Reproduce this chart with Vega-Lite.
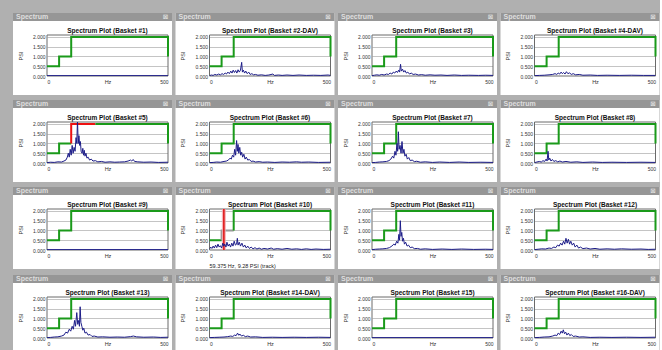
{
"$schema":"https://vega.github.io/schema/vega-lite/v6.json",
"background":"#b0b0b0",
"padding":{"left":12,"top":11,"right":0,"bottom":0},
"config":{"view":{"stroke":null,"fill":"white"},
"axis":{"labelFont":"Liberation Sans","labelFontSize":5,"labelColor":"#333333","titleFont":"Liberation Sans","titleFontSize":5.5,"titleFontWeight":"normal","titleColor":"#333333","ticks":false,"domain":false,"labelPadding":2},
"axisX":{"zindex":1},
"headerFacet":{"labels":false,"title":null,"labelPadding":0,"titlePadding":0,"labelExpr":"''","labelFontSize":1,"labelLimit":1}},
"data":{"values":[
{"p":1,"k":"t","t":"Spectrum Plot (Basket #1)"},
{"p":2,"k":"t","t":"Spectrum Plot (Basket #2-DAV)"},
{"p":3,"k":"t","t":"Spectrum Plot (Basket #3)"},
{"p":4,"k":"t","t":"Spectrum Plot (Basket #4-DAV)"},
{"p":5,"k":"t","t":"Spectrum Plot (Basket #5)"},
{"p":6,"k":"t","t":"Spectrum Plot (Basket #6)"},
{"p":7,"k":"t","t":"Spectrum Plot (Basket #7)"},
{"p":8,"k":"t","t":"Spectrum Plot (Basket #8)"},
{"p":9,"k":"t","t":"Spectrum Plot (Basket #9)"},
{"p":10,"k":"t","t":"Spectrum Plot (Basket #10)"},
{"p":11,"k":"t","t":"Spectrum Plot (Basket #11)"},
{"p":12,"k":"t","t":"Spectrum Plot (Basket #12)"},
{"p":13,"k":"t","t":"Spectrum Plot (Basket #13)"},
{"p":14,"k":"t","t":"Spectrum Plot (Basket #14-DAV)"},
{"p":15,"k":"t","t":"Spectrum Plot (Basket #15)"},
{"p":16,"k":"t","t":"Spectrum Plot (Basket #16-DAV)"},
{"p":10,"k":"cur","x":59.375},
{"p":10,"k":"a","t":"59.375 Hz, 9.28 PSI (track)"},

{"p":1,"c":"g","x":0,"y":0.5},{"p":1,"c":"g","x":50,"y":0.5},{"p":1,"c":"g","x":50,"y":1},{"p":1,"c":"g","x":100,"y":1},{"p":1,"c":"g","x":100,"y":2},{"p":1,"c":"g","x":500,"y":2},{"p":1,"c":"g","x":500,"y":1},
{"p":2,"c":"g","x":0,"y":0.5},{"p":2,"c":"g","x":50,"y":0.5},{"p":2,"c":"g","x":50,"y":1},{"p":2,"c":"g","x":100,"y":1},{"p":2,"c":"g","x":100,"y":2},{"p":2,"c":"g","x":500,"y":2},{"p":2,"c":"g","x":500,"y":1},
{"p":3,"c":"g","x":0,"y":0.5},{"p":3,"c":"g","x":50,"y":0.5},{"p":3,"c":"g","x":50,"y":1},{"p":3,"c":"g","x":100,"y":1},{"p":3,"c":"g","x":100,"y":2},{"p":3,"c":"g","x":500,"y":2},{"p":3,"c":"g","x":500,"y":1},
{"p":4,"c":"g","x":0,"y":0.5},{"p":4,"c":"g","x":50,"y":0.5},{"p":4,"c":"g","x":50,"y":1},{"p":4,"c":"g","x":100,"y":1},{"p":4,"c":"g","x":100,"y":2},{"p":4,"c":"g","x":500,"y":2},{"p":4,"c":"g","x":500,"y":1},
{"p":5,"c":"g","x":0,"y":0.5},{"p":5,"c":"g","x":50,"y":0.5},{"p":5,"c":"g","x":50,"y":1},{"p":5,"c":"g","x":100,"y":1},{"p":5,"c":"r","x":100,"y":1},{"p":5,"c":"r","x":100,"y":2},{"p":5,"c":"r","x":200,"y":2},{"p":5,"c":"h","x":200,"y":2},{"p":5,"c":"h","x":500,"y":2},{"p":5,"c":"h","x":500,"y":1},
{"p":6,"c":"g","x":0,"y":0.5},{"p":6,"c":"g","x":50,"y":0.5},{"p":6,"c":"g","x":50,"y":1},{"p":6,"c":"g","x":100,"y":1},{"p":6,"c":"g","x":100,"y":2},{"p":6,"c":"g","x":500,"y":2},{"p":6,"c":"g","x":500,"y":1},
{"p":7,"c":"g","x":0,"y":0.5},{"p":7,"c":"g","x":50,"y":0.5},{"p":7,"c":"g","x":50,"y":1},{"p":7,"c":"g","x":100,"y":1},{"p":7,"c":"g","x":100,"y":2},{"p":7,"c":"g","x":500,"y":2},{"p":7,"c":"g","x":500,"y":1},
{"p":8,"c":"g","x":0,"y":0.5},{"p":8,"c":"g","x":50,"y":0.5},{"p":8,"c":"g","x":50,"y":1},{"p":8,"c":"g","x":100,"y":1},{"p":8,"c":"g","x":100,"y":2},{"p":8,"c":"g","x":500,"y":2},{"p":8,"c":"g","x":500,"y":1},
{"p":9,"c":"g","x":0,"y":0.5},{"p":9,"c":"g","x":50,"y":0.5},{"p":9,"c":"g","x":50,"y":1},{"p":9,"c":"g","x":100,"y":1},{"p":9,"c":"g","x":100,"y":2},{"p":9,"c":"g","x":500,"y":2},{"p":9,"c":"g","x":500,"y":1},
{"p":10,"c":"g","x":0,"y":0.5},{"p":10,"c":"g","x":50,"y":0.5},{"p":10,"c":"k","x":50,"y":0.5},{"p":10,"c":"k","x":50,"y":1},{"p":10,"c":"k","x":100,"y":1},{"p":10,"c":"h","x":100,"y":1},{"p":10,"c":"h","x":100,"y":2},{"p":10,"c":"h","x":500,"y":2},{"p":10,"c":"h","x":500,"y":1},
{"p":11,"c":"g","x":0,"y":0.5},{"p":11,"c":"g","x":50,"y":0.5},{"p":11,"c":"g","x":50,"y":1},{"p":11,"c":"g","x":100,"y":1},{"p":11,"c":"g","x":100,"y":2},{"p":11,"c":"g","x":500,"y":2},{"p":11,"c":"g","x":500,"y":1},
{"p":12,"c":"g","x":0,"y":0.5},{"p":12,"c":"g","x":50,"y":0.5},{"p":12,"c":"g","x":50,"y":1},{"p":12,"c":"g","x":100,"y":1},{"p":12,"c":"g","x":100,"y":2},{"p":12,"c":"g","x":500,"y":2},{"p":12,"c":"g","x":500,"y":1},
{"p":13,"c":"g","x":0,"y":0.5},{"p":13,"c":"g","x":50,"y":0.5},{"p":13,"c":"g","x":50,"y":1},{"p":13,"c":"g","x":100,"y":1},{"p":13,"c":"g","x":100,"y":2},{"p":13,"c":"g","x":500,"y":2},{"p":13,"c":"g","x":500,"y":1},
{"p":14,"c":"g","x":0,"y":0.5},{"p":14,"c":"g","x":50,"y":0.5},{"p":14,"c":"g","x":50,"y":1},{"p":14,"c":"g","x":100,"y":1},{"p":14,"c":"g","x":100,"y":2},{"p":14,"c":"g","x":500,"y":2},{"p":14,"c":"g","x":500,"y":1},
{"p":15,"c":"g","x":0,"y":0.5},{"p":15,"c":"g","x":50,"y":0.5},{"p":15,"c":"g","x":50,"y":1},{"p":15,"c":"g","x":100,"y":1},{"p":15,"c":"g","x":100,"y":2},{"p":15,"c":"g","x":500,"y":2},{"p":15,"c":"g","x":500,"y":1},
{"p":16,"c":"g","x":0,"y":0.5},{"p":16,"c":"g","x":50,"y":0.5},{"p":16,"c":"g","x":50,"y":1},{"p":16,"c":"g","x":100,"y":1},{"p":16,"c":"g","x":100,"y":2},{"p":16,"c":"g","x":500,"y":2},{"p":16,"c":"g","x":500,"y":1},

{"p":1,"x":0,"y":0.02},{"p":1,"x":500,"y":0.02},
{"p":9,"x":0,"y":0.02},{"p":9,"x":500,"y":0.02},
{"p":15,"x":0,"y":0.02},{"p":15,"x":500,"y":0.02},

{"p":2,"x":0,"y":0.02},{"p":2,"x":8,"y":0.05},{"p":2,"x":15,"y":0.03},{"p":2,"x":22,"y":0.08},{"p":2,"x":30,"y":0.05},{"p":2,"x":38,"y":0.1},{"p":2,"x":45,"y":0.06},{"p":2,"x":52,"y":0.12},{"p":2,"x":58,"y":0.08},{"p":2,"x":65,"y":0.15},{"p":2,"x":70,"y":0.1},{"p":2,"x":76,"y":0.2},{"p":2,"x":82,"y":0.12},{"p":2,"x":88,"y":0.25},{"p":2,"x":93,"y":0.15},{"p":2,"x":98,"y":0.3},{"p":2,"x":103,"y":0.18},{"p":2,"x":108,"y":0.28},{"p":2,"x":113,"y":0.15},{"p":2,"x":118,"y":0.32},{"p":2,"x":123,"y":0.2},{"p":2,"x":128,"y":0.3},{"p":2,"x":133,"y":0.7},{"p":2,"x":136,"y":0.2},{"p":2,"x":140,"y":0.3},{"p":2,"x":145,"y":0.15},{"p":2,"x":150,"y":0.25},{"p":2,"x":156,"y":0.12},{"p":2,"x":162,"y":0.2},{"p":2,"x":168,"y":0.08},{"p":2,"x":175,"y":0.12},{"p":2,"x":182,"y":0.06},{"p":2,"x":190,"y":0.08},{"p":2,"x":200,"y":0.04},{"p":2,"x":215,"y":0.06},{"p":2,"x":230,"y":0.03},{"p":2,"x":245,"y":0.05},{"p":2,"x":262,"y":0.1},{"p":2,"x":268,"y":0.03},{"p":2,"x":285,"y":0.05},{"p":2,"x":300,"y":0.03},{"p":2,"x":320,"y":0.05},{"p":2,"x":345,"y":0.03},{"p":2,"x":370,"y":0.05},{"p":2,"x":400,"y":0.03},{"p":2,"x":430,"y":0.04},{"p":2,"x":460,"y":0.03},{"p":2,"x":490,"y":0.05},{"p":2,"x":500,"y":0.03},

{"p":3,"x":0,"y":0.02},{"p":3,"x":10,"y":0.04},{"p":3,"x":20,"y":0.06},{"p":3,"x":30,"y":0.04},{"p":3,"x":40,"y":0.08},{"p":3,"x":50,"y":0.05},{"p":3,"x":60,"y":0.1},{"p":3,"x":68,"y":0.08},{"p":3,"x":75,"y":0.15},{"p":3,"x":82,"y":0.1},{"p":3,"x":88,"y":0.2},{"p":3,"x":94,"y":0.15},{"p":3,"x":100,"y":0.25},{"p":3,"x":105,"y":0.18},{"p":3,"x":110,"y":0.3},{"p":3,"x":114,"y":0.2},{"p":3,"x":118,"y":0.6},{"p":3,"x":121,"y":0.25},{"p":3,"x":126,"y":0.35},{"p":3,"x":131,"y":0.2},{"p":3,"x":136,"y":0.28},{"p":3,"x":142,"y":0.15},{"p":3,"x":148,"y":0.2},{"p":3,"x":155,"y":0.1},{"p":3,"x":162,"y":0.15},{"p":3,"x":170,"y":0.08},{"p":3,"x":180,"y":0.1},{"p":3,"x":192,"y":0.05},{"p":3,"x":205,"y":0.07},{"p":3,"x":220,"y":0.04},{"p":3,"x":240,"y":0.06},{"p":3,"x":260,"y":0.04},{"p":3,"x":285,"y":0.05},{"p":3,"x":310,"y":0.03},{"p":3,"x":340,"y":0.05},{"p":3,"x":370,"y":0.03},{"p":3,"x":400,"y":0.04},{"p":3,"x":440,"y":0.03},{"p":3,"x":470,"y":0.04},{"p":3,"x":500,"y":0.03},

{"p":4,"x":0,"y":0.02},{"p":4,"x":20,"y":0.03},{"p":4,"x":40,"y":0.04},{"p":4,"x":60,"y":0.06},{"p":4,"x":75,"y":0.08},{"p":4,"x":85,"y":0.12},{"p":4,"x":92,"y":0.08},{"p":4,"x":98,"y":0.15},{"p":4,"x":104,"y":0.1},{"p":4,"x":110,"y":0.2},{"p":4,"x":115,"y":0.12},{"p":4,"x":120,"y":0.18},{"p":4,"x":126,"y":0.1},{"p":4,"x":132,"y":0.22},{"p":4,"x":138,"y":0.12},{"p":4,"x":145,"y":0.16},{"p":4,"x":152,"y":0.08},{"p":4,"x":160,"y":0.12},{"p":4,"x":170,"y":0.06},{"p":4,"x":185,"y":0.08},{"p":4,"x":200,"y":0.04},{"p":4,"x":230,"y":0.05},{"p":4,"x":260,"y":0.03},{"p":4,"x":300,"y":0.04},{"p":4,"x":350,"y":0.03},{"p":4,"x":400,"y":0.04},{"p":4,"x":450,"y":0.03},{"p":4,"x":500,"y":0.03},

{"p":5,"x":0,"y":0.02},{"p":5,"x":15,"y":0.04},{"p":5,"x":30,"y":0.03},{"p":5,"x":45,"y":0.06},{"p":5,"x":60,"y":0.05},{"p":5,"x":70,"y":0.1},{"p":5,"x":78,"y":0.15},{"p":5,"x":84,"y":0.3},{"p":5,"x":88,"y":0.5},{"p":5,"x":92,"y":0.3},{"p":5,"x":96,"y":0.7},{"p":5,"x":100,"y":0.4},{"p":5,"x":104,"y":0.9},{"p":5,"x":108,"y":0.5},{"p":5,"x":112,"y":0.8},{"p":5,"x":116,"y":0.6},{"p":5,"x":120,"y":1.3},{"p":5,"x":123,"y":1.0},{"p":5,"x":126,"y":2.2},{"p":5,"x":129,"y":1.0},{"p":5,"x":132,"y":1.4},{"p":5,"x":135,"y":0.9},{"p":5,"x":138,"y":1.1},{"p":5,"x":141,"y":0.6},{"p":5,"x":145,"y":0.5},{"p":5,"x":148,"y":0.75},{"p":5,"x":151,"y":0.4},{"p":5,"x":154,"y":0.65},{"p":5,"x":157,"y":0.35},{"p":5,"x":161,"y":0.5},{"p":5,"x":165,"y":0.25},{"p":5,"x":170,"y":0.3},{"p":5,"x":176,"y":0.15},{"p":5,"x":183,"y":0.2},{"p":5,"x":190,"y":0.1},{"p":5,"x":200,"y":0.12},{"p":5,"x":210,"y":0.06},{"p":5,"x":225,"y":0.08},{"p":5,"x":240,"y":0.04},{"p":5,"x":260,"y":0.06},{"p":5,"x":280,"y":0.04},{"p":5,"x":300,"y":0.05},{"p":5,"x":320,"y":0.06},{"p":5,"x":335,"y":0.1},{"p":5,"x":345,"y":0.15},{"p":5,"x":350,"y":0.1},{"p":5,"x":356,"y":0.18},{"p":5,"x":362,"y":0.08},{"p":5,"x":375,"y":0.06},{"p":5,"x":400,"y":0.04},{"p":5,"x":430,"y":0.05},{"p":5,"x":460,"y":0.03},{"p":5,"x":500,"y":0.04},

{"p":6,"x":0,"y":0.02},{"p":6,"x":15,"y":0.03},{"p":6,"x":30,"y":0.05},{"p":6,"x":45,"y":0.04},{"p":6,"x":60,"y":0.08},{"p":6,"x":70,"y":0.1},{"p":6,"x":78,"y":0.15},{"p":6,"x":85,"y":0.25},{"p":6,"x":90,"y":0.2},{"p":6,"x":95,"y":0.4},{"p":6,"x":100,"y":0.3},{"p":6,"x":104,"y":0.7},{"p":6,"x":108,"y":0.4},{"p":6,"x":112,"y":1.15},{"p":6,"x":115,"y":0.6},{"p":6,"x":118,"y":0.95},{"p":6,"x":121,"y":0.5},{"p":6,"x":125,"y":0.8},{"p":6,"x":129,"y":0.4},{"p":6,"x":133,"y":0.55},{"p":6,"x":137,"y":0.3},{"p":6,"x":142,"y":0.45},{"p":6,"x":147,"y":0.2},{"p":6,"x":152,"y":0.3},{"p":6,"x":158,"y":0.15},{"p":6,"x":165,"y":0.18},{"p":6,"x":172,"y":0.08},{"p":6,"x":180,"y":0.1},{"p":6,"x":190,"y":0.05},{"p":6,"x":205,"y":0.07},{"p":6,"x":220,"y":0.04},{"p":6,"x":240,"y":0.05},{"p":6,"x":270,"y":0.03},{"p":6,"x":300,"y":0.05},{"p":6,"x":330,"y":0.04},{"p":6,"x":360,"y":0.06},{"p":6,"x":380,"y":0.04},{"p":6,"x":410,"y":0.05},{"p":6,"x":450,"y":0.03},{"p":6,"x":500,"y":0.04},

{"p":7,"x":0,"y":0.02},{"p":7,"x":15,"y":0.03},{"p":7,"x":30,"y":0.05},{"p":7,"x":45,"y":0.06},{"p":7,"x":60,"y":0.08},{"p":7,"x":70,"y":0.12},{"p":7,"x":78,"y":0.2},{"p":7,"x":85,"y":0.35},{"p":7,"x":90,"y":0.25},{"p":7,"x":95,"y":0.6},{"p":7,"x":99,"y":0.4},{"p":7,"x":103,"y":1.0},{"p":7,"x":106,"y":0.6},{"p":7,"x":109,"y":1.6},{"p":7,"x":112,"y":0.7},{"p":7,"x":116,"y":0.9},{"p":7,"x":120,"y":0.5},{"p":7,"x":124,"y":1.1},{"p":7,"x":128,"y":0.5},{"p":7,"x":132,"y":0.7},{"p":7,"x":136,"y":0.35},{"p":7,"x":141,"y":0.45},{"p":7,"x":146,"y":0.2},{"p":7,"x":152,"y":0.28},{"p":7,"x":158,"y":0.12},{"p":7,"x":166,"y":0.15},{"p":7,"x":175,"y":0.07},{"p":7,"x":185,"y":0.09},{"p":7,"x":200,"y":0.04},{"p":7,"x":220,"y":0.06},{"p":7,"x":250,"y":0.03},{"p":7,"x":280,"y":0.05},{"p":7,"x":320,"y":0.03},{"p":7,"x":360,"y":0.05},{"p":7,"x":400,"y":0.03},{"p":7,"x":450,"y":0.04},{"p":7,"x":500,"y":0.03},

{"p":8,"x":0,"y":0.02},{"p":8,"x":10,"y":0.05},{"p":8,"x":20,"y":0.08},{"p":8,"x":28,"y":0.05},{"p":8,"x":35,"y":0.12},{"p":8,"x":42,"y":0.08},{"p":8,"x":48,"y":0.2},{"p":8,"x":52,"y":0.1},{"p":8,"x":56,"y":0.6},{"p":8,"x":59,"y":0.15},{"p":8,"x":63,"y":0.25},{"p":8,"x":68,"y":0.1},{"p":8,"x":74,"y":0.18},{"p":8,"x":80,"y":0.08},{"p":8,"x":88,"y":0.12},{"p":8,"x":96,"y":0.06},{"p":8,"x":105,"y":0.1},{"p":8,"x":115,"y":0.05},{"p":8,"x":130,"y":0.08},{"p":8,"x":150,"y":0.04},{"p":8,"x":175,"y":0.06},{"p":8,"x":200,"y":0.03},{"p":8,"x":240,"y":0.05},{"p":8,"x":280,"y":0.03},{"p":8,"x":320,"y":0.04},{"p":8,"x":380,"y":0.03},{"p":8,"x":440,"y":0.04},{"p":8,"x":500,"y":0.03},

{"p":10,"x":0,"y":0.05},{"p":10,"x":5,"y":0.15},{"p":10,"x":10,"y":0.08},{"p":10,"x":15,"y":0.2},{"p":10,"x":20,"y":0.1},{"p":10,"x":25,"y":0.25},{"p":10,"x":30,"y":0.12},{"p":10,"x":35,"y":0.3},{"p":10,"x":40,"y":0.15},{"p":10,"x":45,"y":0.22},{"p":10,"x":50,"y":0.1},{"p":10,"x":55,"y":0.35},{"p":10,"x":59,"y":0.2},{"p":10,"x":63,"y":0.3},{"p":10,"x":68,"y":0.15},{"p":10,"x":72,"y":0.4},{"p":10,"x":77,"y":0.2},{"p":10,"x":82,"y":0.3},{"p":10,"x":87,"y":0.15},{"p":10,"x":92,"y":0.35},{"p":10,"x":97,"y":0.2},{"p":10,"x":102,"y":0.45},{"p":10,"x":107,"y":0.25},{"p":10,"x":112,"y":0.3},{"p":10,"x":115,"y":0.6},{"p":10,"x":118,"y":0.25},{"p":10,"x":123,"y":0.4},{"p":10,"x":128,"y":0.2},{"p":10,"x":134,"y":0.35},{"p":10,"x":140,"y":0.15},{"p":10,"x":146,"y":0.25},{"p":10,"x":152,"y":0.1},{"p":10,"x":158,"y":0.2},{"p":10,"x":165,"y":0.08},{"p":10,"x":172,"y":0.15},{"p":10,"x":180,"y":0.06},{"p":10,"x":188,"y":0.12},{"p":10,"x":196,"y":0.05},{"p":10,"x":205,"y":0.1},{"p":10,"x":215,"y":0.04},{"p":10,"x":225,"y":0.08},{"p":10,"x":240,"y":0.05},{"p":10,"x":255,"y":0.1},{"p":10,"x":265,"y":0.04},{"p":10,"x":280,"y":0.07},{"p":10,"x":300,"y":0.04},{"p":10,"x":320,"y":0.08},{"p":10,"x":340,"y":0.04},{"p":10,"x":360,"y":0.06},{"p":10,"x":380,"y":0.03},{"p":10,"x":400,"y":0.06},{"p":10,"x":420,"y":0.03},{"p":10,"x":440,"y":0.05},{"p":10,"x":470,"y":0.03},{"p":10,"x":500,"y":0.04},

{"p":11,"x":0,"y":0.02},{"p":11,"x":15,"y":0.04},{"p":11,"x":30,"y":0.05},{"p":11,"x":45,"y":0.06},{"p":11,"x":60,"y":0.08},{"p":11,"x":72,"y":0.12},{"p":11,"x":82,"y":0.2},{"p":11,"x":90,"y":0.3},{"p":11,"x":96,"y":0.25},{"p":11,"x":102,"y":0.45},{"p":11,"x":107,"y":0.35},{"p":11,"x":111,"y":0.8},{"p":11,"x":114,"y":0.5},{"p":11,"x":117,"y":1.5},{"p":11,"x":120,"y":0.7},{"p":11,"x":123,"y":0.9},{"p":11,"x":126,"y":0.45},{"p":11,"x":130,"y":0.6},{"p":11,"x":134,"y":0.3},{"p":11,"x":139,"y":0.4},{"p":11,"x":145,"y":0.2},{"p":11,"x":151,"y":0.25},{"p":11,"x":158,"y":0.12},{"p":11,"x":166,"y":0.15},{"p":11,"x":175,"y":0.07},{"p":11,"x":188,"y":0.08},{"p":11,"x":200,"y":0.04},{"p":11,"x":220,"y":0.06},{"p":11,"x":250,"y":0.03},{"p":11,"x":290,"y":0.05},{"p":11,"x":330,"y":0.03},{"p":11,"x":370,"y":0.05},{"p":11,"x":420,"y":0.03},{"p":11,"x":470,"y":0.04},{"p":11,"x":500,"y":0.03},

{"p":12,"x":0,"y":0.02},{"p":12,"x":15,"y":0.04},{"p":12,"x":30,"y":0.06},{"p":12,"x":45,"y":0.05},{"p":12,"x":60,"y":0.1},{"p":12,"x":70,"y":0.08},{"p":12,"x":80,"y":0.15},{"p":12,"x":88,"y":0.12},{"p":12,"x":95,"y":0.25},{"p":12,"x":102,"y":0.2},{"p":12,"x":108,"y":0.35},{"p":12,"x":114,"y":0.25},{"p":12,"x":120,"y":0.45},{"p":12,"x":125,"y":0.3},{"p":12,"x":130,"y":0.6},{"p":12,"x":135,"y":0.35},{"p":12,"x":140,"y":0.55},{"p":12,"x":145,"y":0.3},{"p":12,"x":150,"y":0.45},{"p":12,"x":156,"y":0.25},{"p":12,"x":162,"y":0.35},{"p":12,"x":168,"y":0.15},{"p":12,"x":175,"y":0.25},{"p":12,"x":182,"y":0.1},{"p":12,"x":190,"y":0.15},{"p":12,"x":200,"y":0.07},{"p":12,"x":215,"y":0.1},{"p":12,"x":230,"y":0.05},{"p":12,"x":250,"y":0.08},{"p":12,"x":270,"y":0.04},{"p":12,"x":300,"y":0.06},{"p":12,"x":330,"y":0.04},{"p":12,"x":360,"y":0.06},{"p":12,"x":400,"y":0.04},{"p":12,"x":440,"y":0.05},{"p":12,"x":470,"y":0.03},{"p":12,"x":500,"y":0.04},

{"p":13,"x":0,"y":0.02},{"p":13,"x":15,"y":0.03},{"p":13,"x":30,"y":0.05},{"p":13,"x":45,"y":0.06},{"p":13,"x":60,"y":0.1},{"p":13,"x":70,"y":0.15},{"p":13,"x":78,"y":0.3},{"p":13,"x":85,"y":0.25},{"p":13,"x":92,"y":0.45},{"p":13,"x":98,"y":0.35},{"p":13,"x":104,"y":0.6},{"p":13,"x":109,"y":0.45},{"p":13,"x":114,"y":0.9},{"p":13,"x":118,"y":0.6},{"p":13,"x":123,"y":1.3},{"p":13,"x":127,"y":0.7},{"p":13,"x":131,"y":0.9},{"p":13,"x":134,"y":0.6},{"p":13,"x":137,"y":1.6},{"p":13,"x":140,"y":0.8},{"p":13,"x":144,"y":0.6},{"p":13,"x":148,"y":0.4},{"p":13,"x":152,"y":0.5},{"p":13,"x":157,"y":0.25},{"p":13,"x":163,"y":0.3},{"p":13,"x":170,"y":0.15},{"p":13,"x":178,"y":0.18},{"p":13,"x":186,"y":0.08},{"p":13,"x":195,"y":0.1},{"p":13,"x":210,"y":0.05},{"p":13,"x":230,"y":0.06},{"p":13,"x":260,"y":0.04},{"p":13,"x":290,"y":0.05},{"p":13,"x":320,"y":0.04},{"p":13,"x":345,"y":0.07},{"p":13,"x":357,"y":0.1},{"p":13,"x":370,"y":0.06},{"p":13,"x":400,"y":0.04},{"p":13,"x":440,"y":0.05},{"p":13,"x":470,"y":0.03},{"p":13,"x":500,"y":0.04},

{"p":14,"x":0,"y":0.02},{"p":14,"x":20,"y":0.03},{"p":14,"x":40,"y":0.04},{"p":14,"x":60,"y":0.05},{"p":14,"x":75,"y":0.07},{"p":14,"x":88,"y":0.1},{"p":14,"x":96,"y":0.08},{"p":14,"x":104,"y":0.15},{"p":14,"x":110,"y":0.12},{"p":14,"x":116,"y":0.25},{"p":14,"x":121,"y":0.14},{"p":14,"x":126,"y":0.2},{"p":14,"x":132,"y":0.1},{"p":14,"x":140,"y":0.14},{"p":14,"x":148,"y":0.07},{"p":14,"x":158,"y":0.1},{"p":14,"x":170,"y":0.05},{"p":14,"x":190,"y":0.06},{"p":14,"x":220,"y":0.03},{"p":14,"x":260,"y":0.04},{"p":14,"x":300,"y":0.03},{"p":14,"x":350,"y":0.04},{"p":14,"x":400,"y":0.03},{"p":14,"x":450,"y":0.04},{"p":14,"x":500,"y":0.03},

{"p":16,"x":0,"y":0.02},{"p":16,"x":20,"y":0.03},{"p":16,"x":40,"y":0.05},{"p":16,"x":60,"y":0.06},{"p":16,"x":75,"y":0.1},{"p":16,"x":85,"y":0.15},{"p":16,"x":92,"y":0.12},{"p":16,"x":98,"y":0.25},{"p":16,"x":104,"y":0.18},{"p":16,"x":110,"y":0.35},{"p":16,"x":115,"y":0.25},{"p":16,"x":119,"y":0.42},{"p":16,"x":124,"y":0.22},{"p":16,"x":129,"y":0.3},{"p":16,"x":134,"y":0.15},{"p":16,"x":140,"y":0.25},{"p":16,"x":146,"y":0.12},{"p":16,"x":152,"y":0.18},{"p":16,"x":160,"y":0.08},{"p":16,"x":170,"y":0.1},{"p":16,"x":185,"y":0.05},{"p":16,"x":200,"y":0.06},{"p":16,"x":230,"y":0.03},{"p":16,"x":270,"y":0.04},{"p":16,"x":320,"y":0.03},{"p":16,"x":380,"y":0.04},{"p":16,"x":440,"y":0.03},{"p":16,"x":500,"y":0.04}
]},
"facet":{"field":"p","type":"ordinal","header":{"labels":false,"title":null,"labelPadding":0,"titlePadding":0,"labelExpr":"''","labelFontSize":1,"labelLimit":1},"title":null},
"columns":4,
"spacing":{"row":3,"column":2.5},
"resolve":{"scale":{"x":"independent","y":"independent"},"axis":{"x":"independent","y":"independent"}},
"spec":{
"width":121,"height":41,
"resolve":{"axis":{"x":"independent","y":"independent"}},
"layer":[
{"transform":[{"filter":"datum.k=='t'"}],"mark":{"type":"rect","color":"white","clip":false},
 "encoding":{"x":{"datum":-140.5,"axis":null},"x2":{"datum":516.5},"y":{"datum":2.1,"axis":null},"y2":{"datum":3.227}}},
{"transform":[{"filter":"datum.k=='t'"}],"mark":{"type":"rect","color":"white","clip":false},
 "encoding":{"x":{"datum":-140.5,"axis":null},"x2":{"datum":516.5},"y":{"datum":-0.973,"axis":null},"y2":{"datum":0}}},
{"transform":[{"filter":"datum.k=='t'"}],"mark":{"type":"rect","color":"white","clip":false},
 "encoding":{"x":{"datum":-140.5,"axis":null},"x2":{"datum":0},"y":{"datum":0,"axis":null},"y2":{"datum":2.1}}},
{"transform":[{"filter":"datum.k=='t'"}],"mark":{"type":"rect","color":"white","clip":false},
 "encoding":{"x":{"datum":500,"axis":null},"x2":{"datum":516.5},"y":{"datum":0,"axis":null},"y2":{"datum":2.1}}},
{"transform":[{"filter":"datum.k=='t'"}],"mark":{"type":"rect","color":"#969696","clip":false},
 "encoding":{"x":{"datum":-140.5,"axis":null},"x2":{"datum":516.5},"y":{"datum":2.817,"axis":null},"y2":{"datum":3.227}}},
{"transform":[{"filter":"datum.k=='t'"}],"mark":{"type":"text","text":"Spectrum","align":"left","baseline":"middle","font":"Liberation Sans","fontWeight":"bold","fontSize":7,"color":"#dedede","clip":false},
 "encoding":{"x":{"datum":-128,"axis":null},"y":{"datum":3.022,"axis":null}}},
{"transform":[{"filter":"datum.k=='t'"}],"mark":{"type":"text","text":"⊠","align":"center","baseline":"middle","font":"DejaVu Sans","fontSize":6.5,"color":"#e8e8e8","clip":false},
 "encoding":{"x":{"datum":489.7,"axis":null},"y":{"datum":3.022,"axis":null}}},
{"transform":[{"filter":"datum.k=='t'"}],"mark":{"type":"text","align":"center","baseline":"alphabetic","font":"Liberation Sans","fontWeight":"bold","fontSize":6.5,"color":"#111111","clip":false},
 "encoding":{"x":{"datum":250,"axis":null},"y":{"datum":2.177,"axis":null},"text":{"field":"t"}}},
{"transform":[{"filter":"datum.k=='t'"}],"mark":{"type":"rect","filled":false,"color":"#6a6a6a","strokeWidth":1,"clip":false},
 "encoding":{"x":{"datum":0,"axis":null},"x2":{"datum":500},"y":{"datum":0,"axis":null},"y2":{"datum":2.1}}},
{"transform":[{"filter":"datum.c"}],"mark":{"type":"line","strokeWidth":2,"clip":false},
 "encoding":{"x":{"field":"x","type":"quantitative","scale":{"domain":[0,500],"nice":false,"zero":false},"axis":null},
  "y":{"field":"y","type":"quantitative","scale":{"domain":[0,2.1],"nice":false,"zero":false},"axis":{"orient":"left","grid":true,"gridColor":"#c4c4c4","labels":false,"ticks":false,"domain":false,"title":null,"values":[0.5,1,1.5,2],"zindex":0}},
  "color":{"field":"c","type":"nominal","scale":{"domain":["g","h","r","k"],"range":["#1a9a1a","#1a9a1a","#ee1111","#9a9a9a"]},"legend":null}}},
{"transform":[{"filter":"datum.k=='cur'"}],"mark":{"type":"rule","color":"#f0a0a8","strokeWidth":4,"opacity":0.8},
 "encoding":{"x":{"field":"x","type":"quantitative","axis":null}}},
{"transform":[{"filter":"datum.k=='cur'"}],"mark":{"type":"rule","color":"#e01010","strokeWidth":1.5},
 "encoding":{"x":{"field":"x","type":"quantitative","axis":null}}},
{"transform":[{"filter":"!datum.c && !datum.k"}],"mark":{"type":"line","color":"#1c1c88","strokeWidth":1,"clip":true},
 "encoding":{"x":{"field":"x","type":"quantitative","scale":{"domain":[0,500],"nice":false,"zero":false},"axis":{"orient":"bottom","values":[0,500],"title":"Hz","labelFlush":true,"labelPadding":3,"titleY":3,"titleBaseline":"top","zindex":1}},
  "y":{"field":"y","type":"quantitative","scale":{"domain":[0,2.1],"nice":false,"zero":false},"axis":{"orient":"left","grid":false,"values":[0,0.5,1,1.5,2],"format":".3f","title":"PSI","titlePadding":9,"zindex":1}}}},
{"transform":[{"filter":"datum.k=='a'"}],"mark":{"type":"text","align":"left","baseline":"middle","font":"Liberation Sans","fontSize":5.5,"color":"#222222","clip":false},
 "encoding":{"x":{"datum":0,"axis":null},"y":{"datum":-0.8,"axis":null},"text":{"field":"t"}}}
]}
}
